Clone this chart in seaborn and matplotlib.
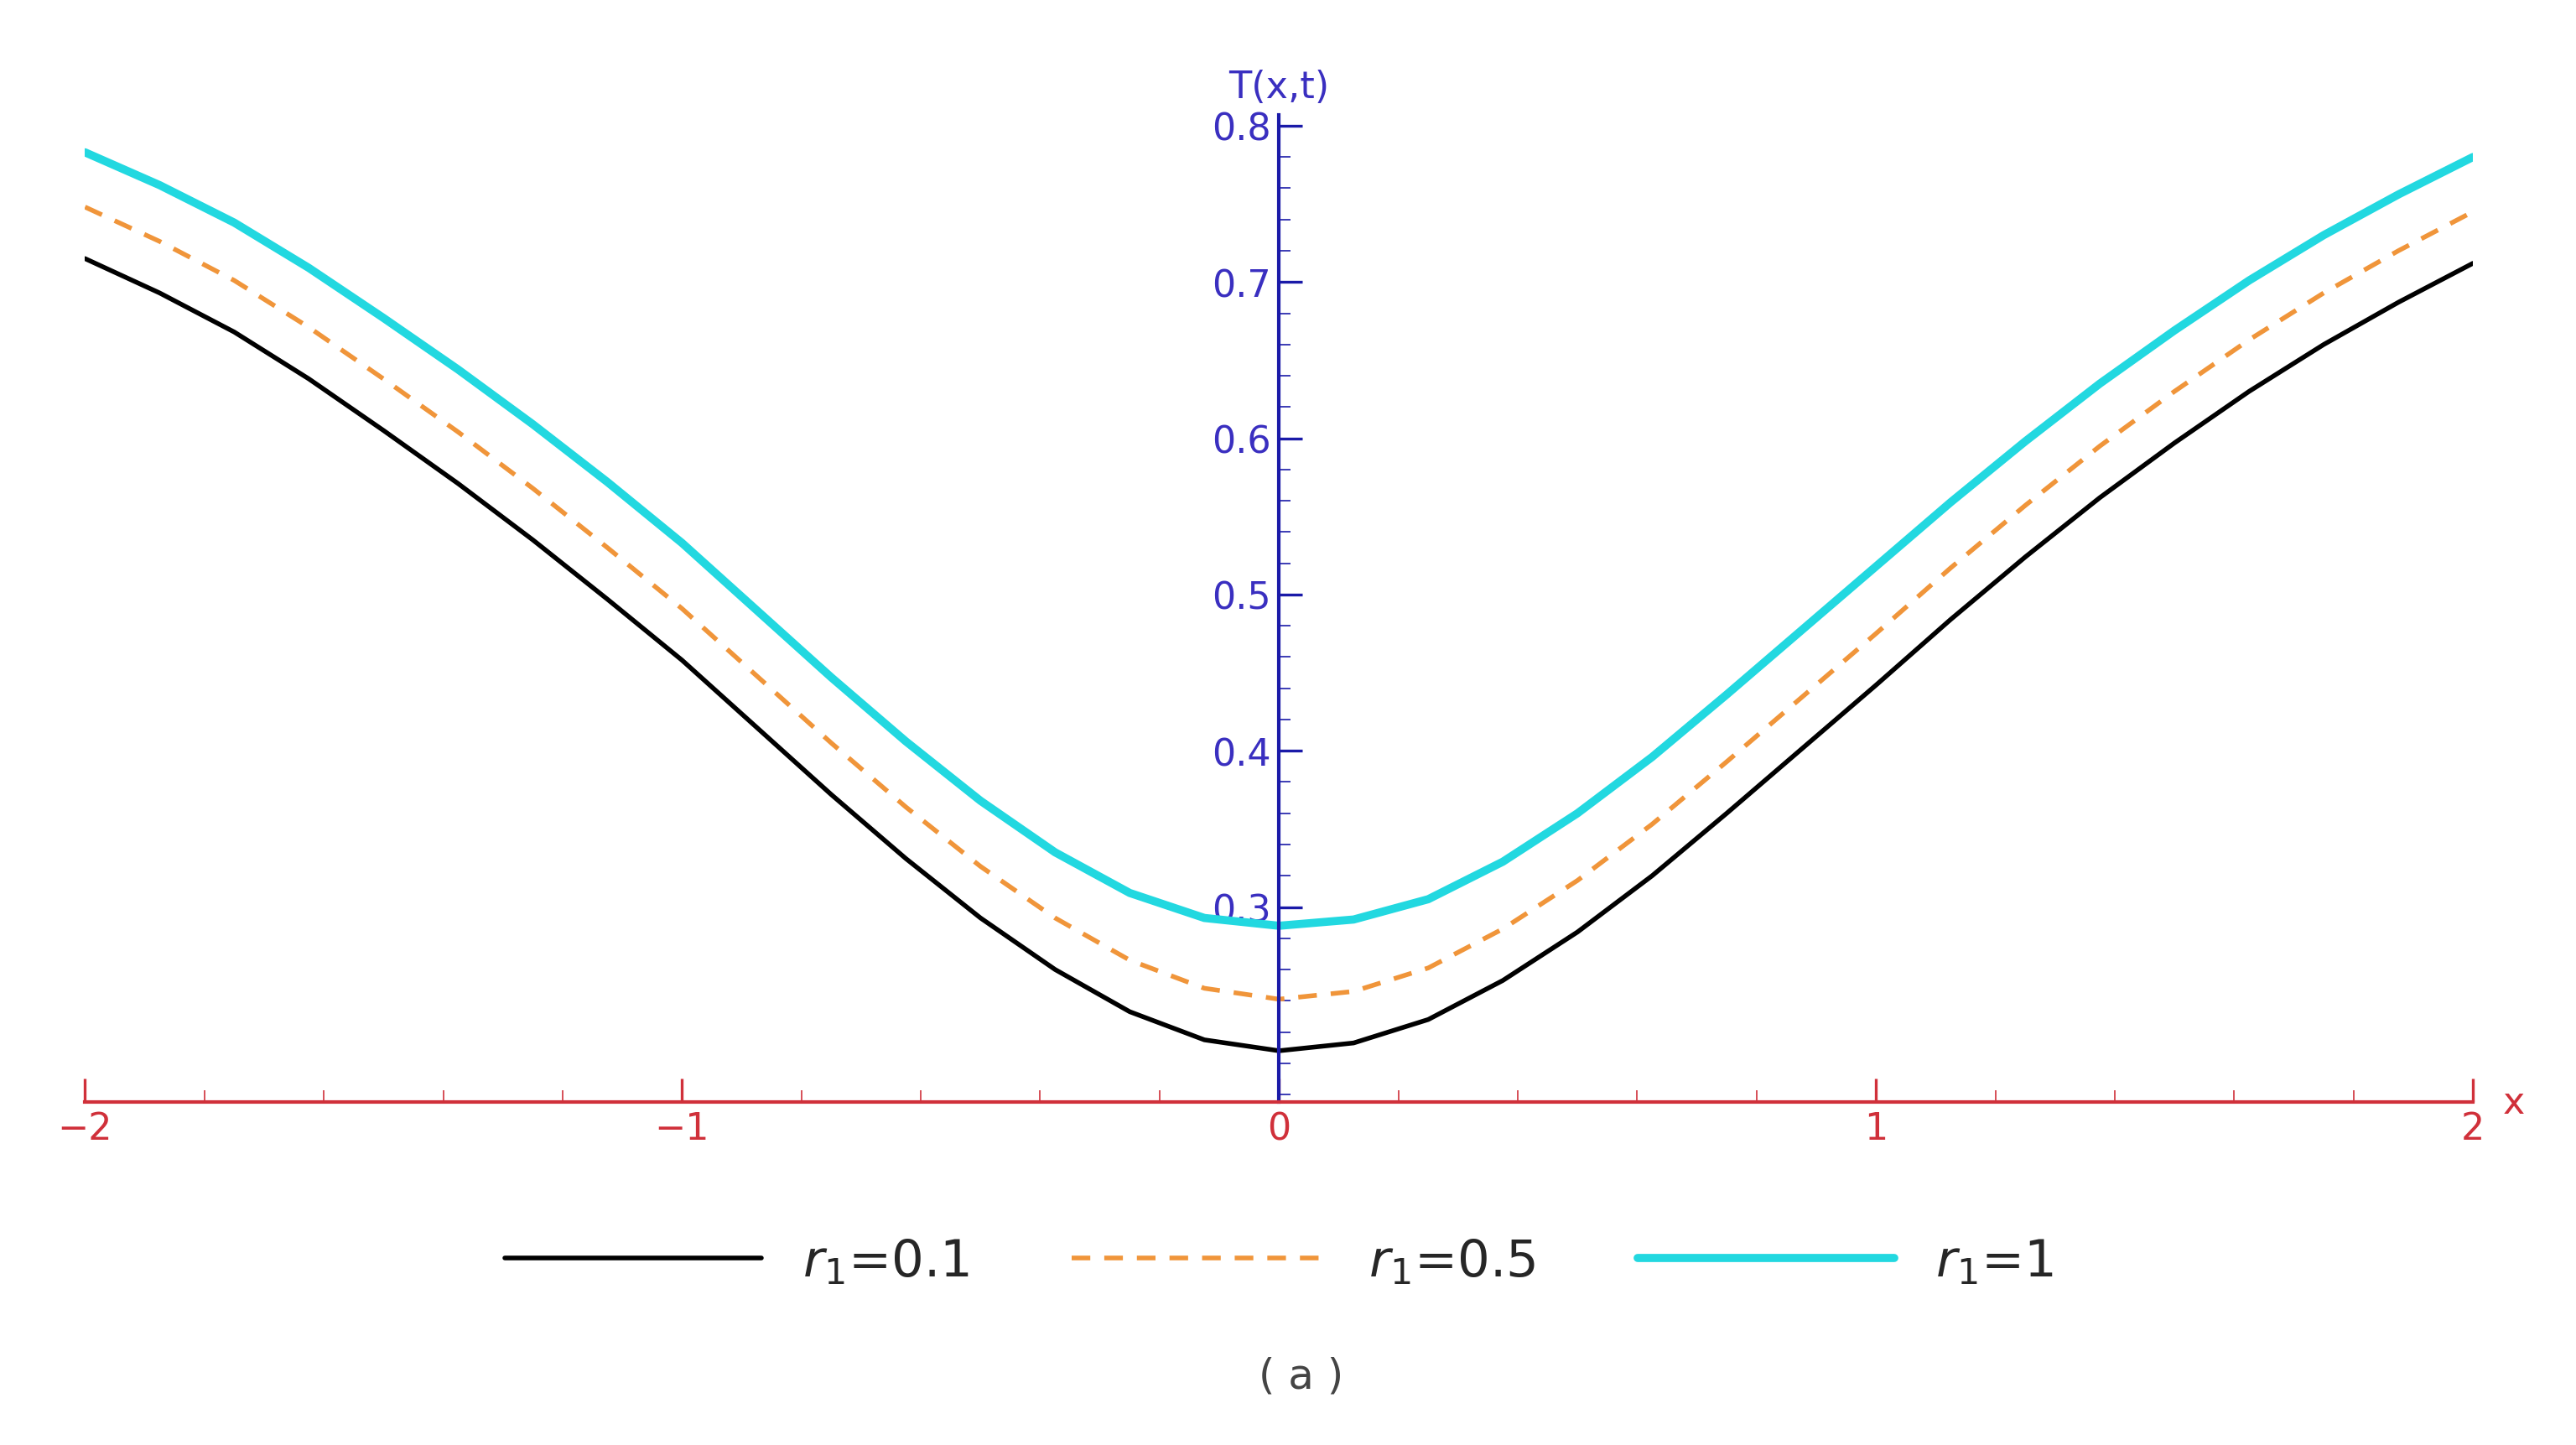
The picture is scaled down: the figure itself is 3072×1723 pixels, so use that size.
import numpy as np
import pandas as pd
import seaborn as sns
import matplotlib.pyplot as plt
from matplotlib.ticker import MultipleLocator

x = [-2, -1.875, -1.75, -1.625, -1.5, -1.375, -1.25, -1.125, -1, -0.875, -0.75, -0.625, -0.5, -0.375, -0.25, -0.125,
     0, 0.125, 0.25, 0.375, 0.5, 0.625, 0.75, 0.875, 1, 1.125, 1.25, 1.375, 1.5, 1.625, 1.75, 1.875, 2]
r01 = [0.715, 0.693, 0.668, 0.638, 0.605, 0.571, 0.535, 0.497, 0.458, 0.415, 0.372, 0.331, 0.293, 0.260, 0.233, 0.215,
       0.208, 0.213, 0.228, 0.253, 0.284, 0.320, 0.360, 0.401, 0.442, 0.484, 0.524, 0.562, 0.597, 0.630, 0.660, 0.687, 0.712]
r05 = [0.748, 0.726, 0.701, 0.671, 0.638, 0.604, 0.568, 0.530, 0.491, 0.448, 0.405, 0.364, 0.326, 0.293, 0.266, 0.248,
       0.241, 0.246, 0.261, 0.286, 0.317, 0.353, 0.393, 0.434, 0.475, 0.517, 0.557, 0.595, 0.630, 0.663, 0.693, 0.720, 0.745]
r1 = [0.783, 0.762, 0.738, 0.709, 0.677, 0.644, 0.609, 0.572, 0.533, 0.490, 0.447, 0.406, 0.368, 0.335, 0.309, 0.293,
      0.288, 0.292, 0.305, 0.329, 0.360, 0.396, 0.436, 0.477, 0.518, 0.559, 0.598, 0.635, 0.669, 0.701, 0.730, 0.756, 0.780]
labels = [r'$r_1$=0.1', r'$r_1$=0.5', r'$r_1$=1']

sns.set_style("white")
fig = plt.figure(figsize=(15.36, 8.62), dpi=200)
ax = fig.add_axes([0.033, 0.237, 0.927, 0.683])

df = pd.DataFrame({'x': x, 'a': r01, 'b': r05, 'c': r1})
sns.lineplot(data=df, x='x', y='a', color='black', linewidth=2, label=labels[0], ax=ax)
sns.lineplot(data=df, x='x', y='b', color='#f0953a', linewidth=2, dashes=False, ax=ax, label=labels[1])
ax.lines[-1].set_dashes([4, 3])
sns.lineplot(data=df, x='x', y='c', color='#22d8e0', linewidth=3.5, label=labels[2], ax=ax)

ax.set_xlim(-2, 2)
ax.set_ylim(0.175, 0.807)
ax.spines['left'].set_position(('data', 0))
ax.spines['bottom'].set_position(('data', 0.175))
ax.spines['right'].set_visible(False)
ax.spines['top'].set_visible(False)
ax.spines['left'].set_color('#1a1aa8')
ax.spines['bottom'].set_color('#d0303a')
ax.spines['left'].set_linewidth(1.5)
ax.spines['bottom'].set_linewidth(1.5)
ax.set_yticks([0.3, 0.4, 0.5, 0.6, 0.7, 0.8])
ax.yaxis.set_minor_locator(MultipleLocator(0.02))
ax.set_xticks([-2, -1, 0, 1, 2])
ax.set_xticklabels(['\u22122', '\u22121', '0', '1', '2'])
ax.xaxis.set_minor_locator(MultipleLocator(0.2))
ax.tick_params(axis='y', which='both', direction='in', colors='#1a1aa8', labelsize=16, left=True)
ax.tick_params(axis='y', which='major', length=10, width=1.2)
ax.tick_params(axis='y', which='minor', length=5)
ax.tick_params(axis='x', which='both', direction='in', colors='#d0303a', labelsize=16, bottom=True)
ax.tick_params(axis='x', which='major', length=10, width=1.2)
ax.tick_params(axis='x', which='minor', length=5)
for t in ax.get_yticklabels():
    t.set_color('#3a2fc0')
ax.set_xlabel('')
ax.set_ylabel('')
ax.text(0, 1.01, 'T(x,t)', transform=ax.get_xaxis_transform(), ha='center', va='bottom', fontsize=16, color='#3a2fc0')
ax.text(2.05, 0.175, 'x', ha='left', va='center', fontsize=16, color='#d0303a')

ax.legend(loc='upper center', bbox_to_anchor=(0.5, -0.09), ncol=3, frameon=False,
          fontsize=22, handlelength=5, columnspacing=2)
fig.text(0.505, 0.04, '( a )', ha='center', fontsize=18, color='#444444')

fig.savefig('out.png', dpi=200)
